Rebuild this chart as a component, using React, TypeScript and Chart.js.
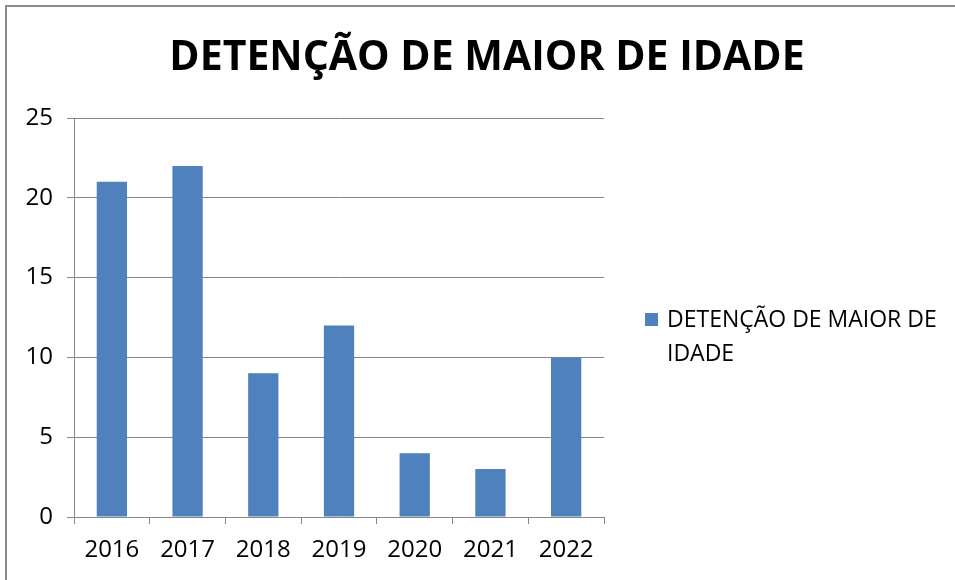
import React, { useEffect, useRef } from 'react';
import { Chart, registerables } from 'chart.js';

Chart.register(...registerables);

const TITLE = 'DETENÇÃO DE MAIOR DE IDADE';
const SERIES_NAME = 'DETENÇÃO DE MAIOR DE IDADE';
const LEGEND_LINES = ['DETENÇÃO DE MAIOR DE', 'IDADE'];
const categories = ['2016', '2017', '2018', '2019', '2020', '2021', '2022'];
const values = [21, 22, 9, 12, 4, 3, 10];
const Y_MIN = 0;
const Y_MAX = 25;
const Y_STEP = 5;

const BAR_COLOR = '#4F81BD';
const GRID_COLOR = '#868686';
const FONT = '"Open Sans", sans-serif';

const overlayPlugin = {
  id: 'overlayText',
  afterDraw(chart: any) {
    const ctx = chart.ctx as CanvasRenderingContext2D;
    ctx.save();
    ctx.fillStyle = '#000';
    ctx.font = `bold 41px ${FONT}`;
    ctx.textAlign = 'center';
    ctx.textBaseline = 'middle';
    ctx.fillText(TITLE, 487, 58);

    ctx.fillStyle = BAR_COLOR;
    ctx.fillRect(645, 313, 13, 13);
    ctx.fillStyle = '#000';
    ctx.font = `23px ${FONT}`;
    ctx.textAlign = 'left';
    LEGEND_LINES.forEach((line, i) => ctx.fillText(line, 667, 320 + i * 34));
    ctx.restore();
  },
};

export default function App() {
  const canvasRef = useRef<HTMLCanvasElement | null>(null);

  useEffect(() => {
    if (!canvasRef.current) return;
    const chart = new Chart(canvasRef.current, {
      type: 'bar',
      data: {
        labels: categories,
        datasets: [
          {
            label: SERIES_NAME,
            data: values,
            backgroundColor: BAR_COLOR,
            borderWidth: 0,
            categoryPercentage: 1,
            barPercentage: 0.4,
          },
        ],
      },
      options: {
        responsive: false,
        animation: false,
        layout: { padding: { top: 118, right: 351, left: 0, bottom: 0 } },
        plugins: {
          legend: { display: false },
          title: { display: false },
          tooltip: { enabled: false },
        },
        scales: {
          x: {
            offset: true,
            grid: {
              offset: true,
              drawOnChartArea: false,
              drawTicks: true,
              tickLength: 7,
              color: GRID_COLOR,
            },
            border: { color: GRID_COLOR, width: 1 },
            ticks: { color: '#000', font: { family: FONT, size: 24 }, padding: 12 },
            afterFit: (scale: any) => {
              scale.height = 63;
            },
          },
          y: {
            min: Y_MIN,
            max: Y_MAX,
            ticks: {
              stepSize: Y_STEP,
              color: '#000',
              font: { family: FONT, size: 24 },
              padding: 14,
            },
            grid: { color: GRID_COLOR, tickLength: 7 },
            border: { color: GRID_COLOR, width: 1 },
            afterFit: (scale: any) => {
              scale.width = 74;
            },
          },
        },
      },
      plugins: [overlayPlugin],
    });
    return () => chart.destroy();
  }, []);

  return (
    <div
      style={{
        position: 'fixed',
        left: 0,
        top: 0,
        width: 955,
        height: 580,
        overflow: 'hidden',
        background: '#fff',
      }}
    >
      <canvas
        ref={canvasRef}
        width={955}
        height={580}
        style={{ position: 'absolute', left: 0, top: 0, width: 955, height: 580 }}
      />
      <div
        style={{
          position: 'absolute',
          left: 5,
          top: 5,
          width: 970,
          height: 600,
          borderLeft: '2px solid #8c8c8c',
          borderTop: '2px solid #8c8c8c',
          pointerEvents: 'none',
        }}
      />
    </div>
  );
}
